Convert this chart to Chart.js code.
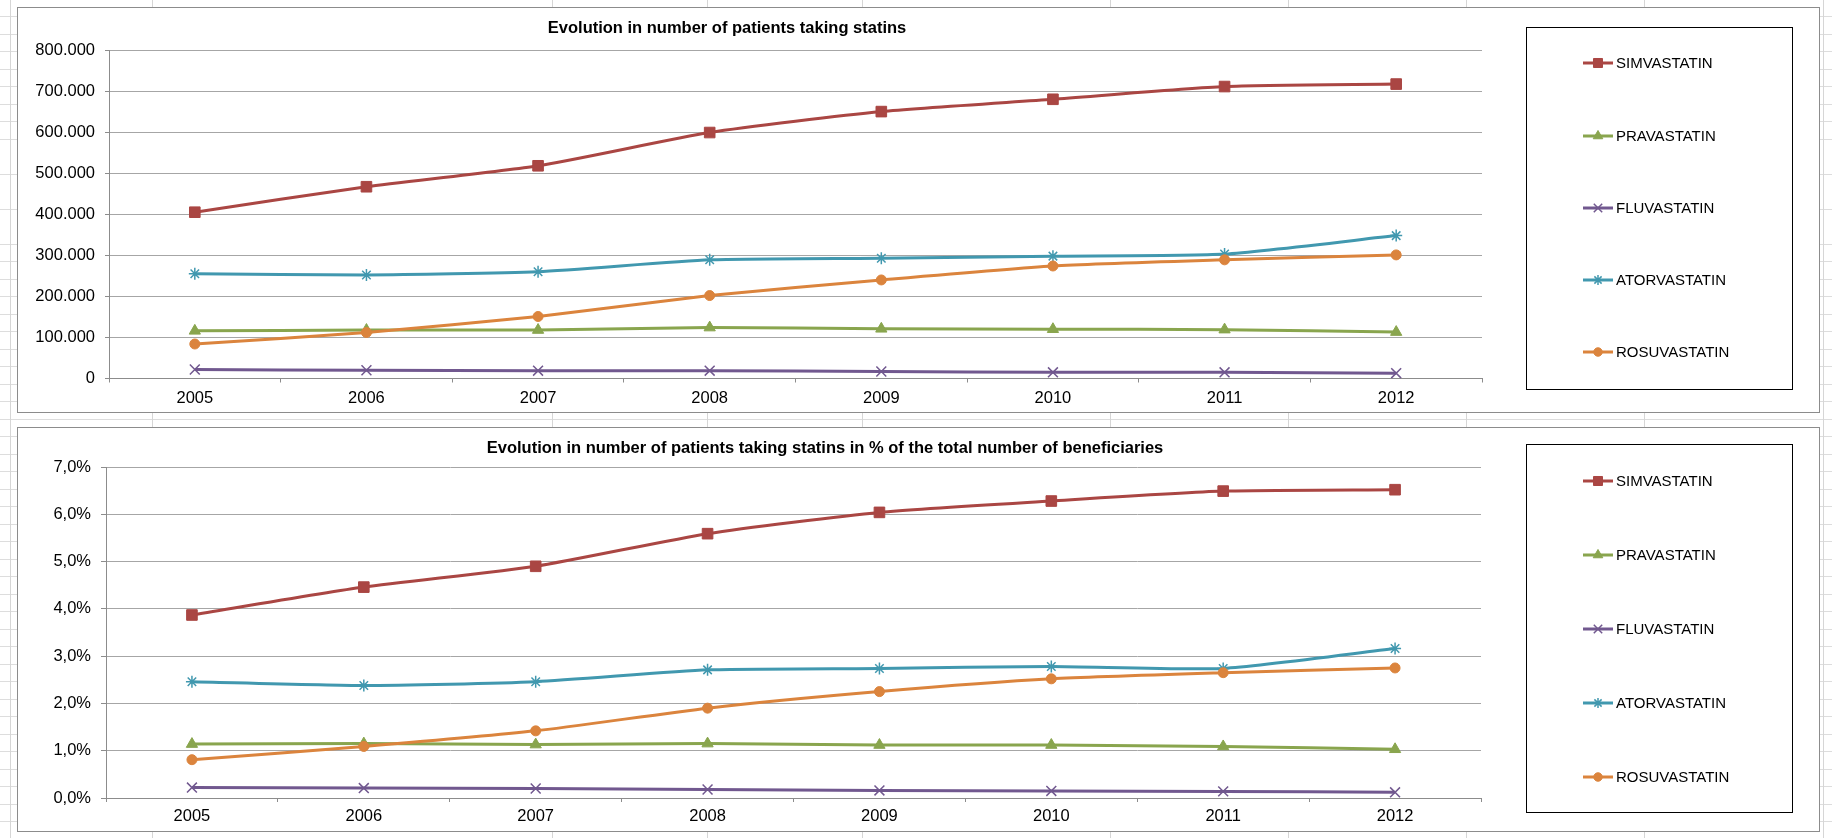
<!DOCTYPE html>
<html>
<head>
<meta charset="utf-8">
<script src="https://cdn.jsdelivr.net/npm/chart.js@4.4.1/dist/chart.umd.min.js"></script>
<style>
  html, body { margin: 0; padding: 0; }
  body {
    width: 1832px; height: 838px; position: relative; overflow: hidden; background: #fff;
    font-family: "Liberation Sans", Arial, sans-serif;
    background-image: repeating-linear-gradient(to bottom, transparent 0, transparent 16.5px, #dddddd 16.5px, #dddddd 17.5px);
  }
  .vline { position: absolute; top: 0; bottom: 0; width: 1px; background: #d6d6d6; }
  .frame { position: absolute; left: 17px; width: 1803px; background: #fff; border: 1px solid #8c8c8c; box-sizing: border-box; }
  .box { position: absolute; left: 17px; width: 1803px; }
</style>
</head>
<body>
<div class="vline" style="left:10px"></div>
<div class="vline" style="left:152px"></div>
<div class="vline" style="left:552px"></div>
<div class="vline" style="left:707px"></div>
<div class="vline" style="left:862px"></div>
<div class="vline" style="left:1110px"></div>
<div class="vline" style="left:1288px"></div>
<div class="vline" style="left:1466px"></div>
<div class="vline" style="left:1644px"></div>
<div class="vline" style="left:1823px"></div>

<div class="frame" style="top:7px;height:406px"></div>
<div class="frame" style="top:427px;height:405px"></div>
<div class="box" style="top:7px;height:406px"><canvas id="patientsChart"></canvas></div>
<div class="box" style="top:427px;height:405px"><canvas id="shareChart"></canvas></div>

<script>
// categories
const years = ["2005", "2006", "2007", "2008", "2009", "2010", "2011", "2012"];
const statins = ["SIMVASTATIN", "PRAVASTATIN", "FLUVASTATIN", "ATORVASTATIN", "ROSUVASTATIN"];

// number of patients
const simvaPatients  = [405000, 467000, 518000, 599000, 650000, 680000, 711000, 717000];
const pravaPatients  = [116000, 118000, 118000, 124000, 121000, 120000, 119000, 113000];
const fluvaPatients  = [22000, 20000, 19000, 19000, 17000, 15000, 15000, 13000];
const atorvaPatients = [255000, 252000, 260000, 289000, 293000, 298000, 303000, 348000];
const rosuvaPatients = [84000, 112000, 151000, 202000, 240000, 274000, 289000, 301000];

// % of the total number of beneficiaries
const simvaShare  = [3.87, 4.46, 4.90, 5.59, 6.04, 6.28, 6.49, 6.52];
const pravaShare  = [1.14, 1.15, 1.13, 1.15, 1.12, 1.12, 1.09, 1.03];
const fluvaShare  = [0.22, 0.21, 0.20, 0.18, 0.16, 0.15, 0.14, 0.12];
const atorvaShare = [2.46, 2.38, 2.46, 2.71, 2.74, 2.78, 2.74, 3.16];
const rosuvaShare = [0.81, 1.09, 1.42, 1.90, 2.25, 2.52, 2.65, 2.75];

const colors = ["#AA4643", "#89A54E", "#71588F", "#4198AF", "#DB843D"];
const markers = ["rect", "triangle", "crossRot", "star", "circle"];
const markerSize = [7.5, 6.5, 7, 6, 5];

const FONT = '"Liberation Sans", Arial, sans-serif';

function dotted(v) {
  return String(v).replace(/\B(?=(\d{3})+(?!\d))/g, ".");
}

function buildSets(series) {
  return series.map((vals, i) => {
    const open = markers[i] === "crossRot" || markers[i] === "star";
    return {
      label: statins[i],
      data: vals,
      borderColor: colors[i],
      backgroundColor: colors[i],
      borderWidth: 3,
      tension: 0.2,
      pointStyle: markers[i],
      pointRadius: markerSize[i],
      pointHoverRadius: markerSize[i],
      pointBackgroundColor: colors[i],
      pointBorderColor: colors[i],
      pointBorderWidth: open ? 1.5 : 1,
      order: series.length - i,
    };
  });
}

// title + boxed legend (line with marker, as in the spreadsheet)
const decor = {
  id: "decor",
  afterDraw(chart, args, opts) {
    const ctx = chart.ctx;
    ctx.save();
    ctx.fillStyle = "#000";
    ctx.font = "bold 16.5px " + FONT;
    ctx.textAlign = "center";
    ctx.textBaseline = "middle";
    ctx.fillText(opts.title, opts.titleX, opts.titleY);

    const b = opts.box;
    ctx.strokeStyle = "#000";
    ctx.lineWidth = 1;
    ctx.strokeRect(b.x + 0.5, b.y + 0.5, b.w, b.h);

    ctx.font = "15px " + FONT;
    ctx.textAlign = "left";
    chart.data.datasets.forEach((ds, i) => {
      const y = opts.itemY[i];
      ctx.strokeStyle = ds.borderColor;
      ctx.lineWidth = 3;
      ctx.beginPath();
      ctx.moveTo(opts.lineX, y);
      ctx.lineTo(opts.lineX + 30, y);
      ctx.stroke();
      ctx.fillStyle = ds.pointBackgroundColor;
      ctx.strokeStyle = ds.pointBorderColor;
      ctx.lineWidth = ds.pointBorderWidth;
      if (Chart.helpers && Chart.helpers.drawPoint) {
        Chart.helpers.drawPoint(ctx, {
          pointStyle: ds.pointStyle, radius: ds.pointRadius * 0.85, rotation: 0, borderWidth: ds.pointBorderWidth
        }, opts.lineX + 15, y);
      }
      ctx.fillStyle = "#000";
      ctx.fillText(ds.label, opts.lineX + 33, y + 0.5);
    });
    ctx.restore();
  }
};

function makeChart(id, series, cfg) {
  return new Chart(document.getElementById(id), {
    type: "line",
    data: { labels: years, datasets: buildSets(series) },
    plugins: [decor],
    options: {
      responsive: true,
      maintainAspectRatio: false,
      animation: false,
      events: [],
      layout: { padding: { top: cfg.top, right: cfg.right, left: 0, bottom: 0 } },
      plugins: {
        legend: { display: false },
        title: { display: false },
        tooltip: { enabled: false },
        decor: cfg.decor,
      },
      scales: {
        x: {
          offset: true,
          grid: { offset: true, drawOnChartArea: false, tickLength: 4, color: "#8c8c8c" },
          border: { color: "#8c8c8c" },
          ticks: { color: "#000", font: { family: FONT, size: 16.5 }, padding: cfg.xPad, maxRotation: 0 },
          afterFit: s => { s.height = cfg.xH; },
        },
        y: {
          min: cfg.min,
          max: cfg.max,
          grid: { color: "#a6a6a6", tickColor: "#8c8c8c", tickLength: cfg.tickLen },
          border: { color: "#8c8c8c" },
          ticks: { stepSize: cfg.step, color: "#000", font: { family: FONT, size: 16.5 }, padding: 10, callback: cfg.fmt },
          afterFit: s => { s.width = cfg.yW; },
        },
      },
    },
  });
}

makeChart("patientsChart",
  [simvaPatients, pravaPatients, fluvaPatients, atorvaPatients, rosuvaPatients],
  {
    top: 43, right: 338, xH: 34.5, yW: 92, xPad: 6, tickLen: 4,
    min: 0, max: 800000, step: 100000,
    fmt: v => dotted(v),
    decor: {
      title: "Evolution in number of patients taking statins",
      titleX: 710, titleY: 21,
      box: { x: 1509, y: 20, w: 266, h: 362 },
      lineX: 1566,
      itemY: [56, 129, 201, 273, 345],
    },
  });

makeChart("shareChart",
  [simvaShare, pravaShare, fluvaShare, atorvaShare, rosuvaShare],
  {
    top: 40, right: 339, xH: 34, yW: 89, xPad: 5, tickLen: 5,
    min: 0, max: 7, step: 1,
    fmt: v => v.toFixed(1).replace(".", ",") + "%",
    decor: {
      title: "Evolution in number of patients taking statins in % of the total number of beneficiaries",
      titleX: 808, titleY: 21,
      box: { x: 1509, y: 17, w: 266, h: 368 },
      lineX: 1566,
      itemY: [54, 128, 202, 276, 350],
    },
  });
</script>
</body>
</html>
